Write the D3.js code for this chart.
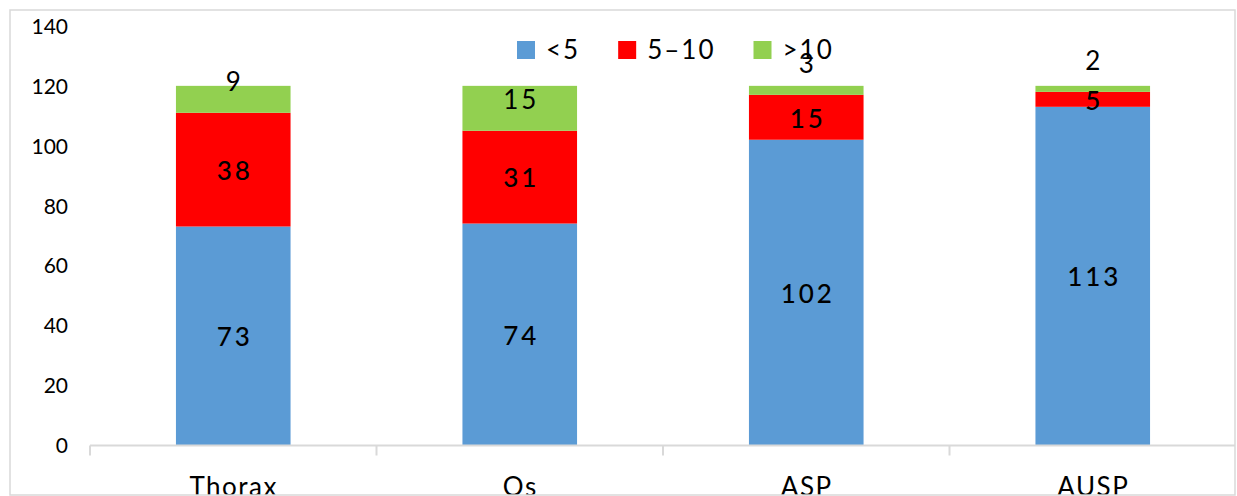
<!DOCTYPE html>
<html>
<head>
<meta charset="utf-8">
<script src="https://cdn.jsdelivr.net/npm/d3@7"></script>
<style>
  html, body { margin: 0; padding: 0; background: #fff; }
  svg { display: block; }
  text { font-family: Lato, "Open Sans", sans-serif; fill: #000; }
</style>
</head>
<body>
<svg id="chart" width="1237" height="496"></svg>
<script>
// Counts per location, split by size class
const categories = ["Thorax", "Os", "ASP", "AUSP"];
const seriesNames = ["<5", "5–10", ">10"];
const under5 = [73, 74, 102, 113];
const from5to10 = [38, 31, 15, 5];
const over10 = [9, 15, 3, 2];
const yTicks = [0, 20, 40, 60, 80, 100, 120, 140];
const colors = ["#5B9BD5", "#FF0000", "#92D050"];

const rows = categories.map((c, i) => ({
  category: c,
  [seriesNames[0]]: under5[i],
  [seriesNames[1]]: from5to10[i],
  [seriesNames[2]]: over10[i]
}));

const svg = d3.select("#chart");

// outer frame
const frame = { x0: 10, y0: 10, x1: 1235, y1: 495 };

const x = d3.scaleBand().domain(categories).range([90, 1236]).padding(0);
const y = d3.scaleLinear().domain([0, 140]).range([445, 26]);
const color = d3.scaleOrdinal().domain(seriesNames).range(colors);
const barFrac = 0.4;

const stacked = d3.stack().keys(seriesNames)(rows);

svg.append("defs").append("clipPath").attr("id", "frameClip")
  .append("rect")
  .attr("x", frame.x0).attr("y", frame.y0)
  .attr("width", frame.x1 - frame.x0).attr("height", frame.y1 - frame.y0);

const root = svg.append("g").attr("clip-path", "url(#frameClip)");

// y axis: labels only
const yAxis = d3.axisLeft(y).tickValues(yTicks).tickSize(0).tickPadding(0);
const yg = root.append("g").attr("transform", "translate(68,0)").call(yAxis);
yg.select(".domain").remove();
yg.selectAll("text")
  .attr("font-family", "Lato, sans-serif")
  .attr("font-size", 21)
  .attr("fill", "#000")
  .attr("dy", "0.36em");

// bars
const layers = root.append("g").selectAll("g")
  .data(stacked).join("g")
  .attr("fill", d => color(d.key));

const bw = x.bandwidth() * barFrac;
layers.selectAll("rect")
  .data(d => d)
  .join("rect")
  .attr("x", d => x(d.data.category) + (x.bandwidth() - bw) / 2)
  .attr("y", d => y(d[1]))
  .attr("width", bw)
  .attr("height", d => y(d[0]) - y(d[1]));

// x axis
const xAxis = d3.axisBottom(x).tickSize(0).tickPadding(0);
const xg = root.append("g").attr("transform", "translate(0,445.5)").call(xAxis);
xg.select(".domain").attr("stroke", "#d9d9d9").attr("stroke-width", 2)
  .attr("d", "M90,0H1236");
xg.selectAll(".tick text").remove();
// boundary ticks between categories
const bounds = categories.map(c => x(c)).concat([x.range()[1]]);
xg.selectAll("line.bound").data(bounds).join("line")
  .attr("class", "bound")
  .attr("x1", d => d).attr("x2", d => d)
  .attr("y1", 0).attr("y2", 10)
  .attr("stroke", "#d9d9d9").attr("stroke-width", 2);
xg.selectAll("text.cat").data(categories).join("text")
  .attr("class", "cat")
  .attr("x", d => x(d) + x.bandwidth() / 2 + 0.5)
  .attr("y", 50.5)
  .attr("text-anchor", "middle")
  .attr("font-size", 26)
  .attr("letter-spacing", 1.5)
  .text(d => d);

// value labels: centred in each segment; the top series sits above its base
const labelG = root.append("g");
stacked.forEach((layer, li) => {
  labelG.selectAll(null).data(layer).join("text")
    .attr("x", d => x(d.data.category) + x.bandwidth() / 2 + 1.5)
    .attr("y", d => li === stacked.length - 1
      ? y(d[0]) - 31
      : (y(d[0]) + y(d[1])) / 2 + 1)
    .attr("dy", "0.36em")
    .attr("text-anchor", "middle")
    .attr("font-size", 26)
    .attr("letter-spacing", 3)
    .attr("font-weight", li === 2 ? 400 : 500)
    .text(d => d[1] - d[0]);
});

// legend
const legend = root.append("g").attr("transform", "translate(517,50)");
let lx = 0;
seriesNames.forEach((name, i) => {
  const g = legend.append("g").attr("transform", `translate(${lx},0)`);
  g.append("rect").attr("x", 0).attr("y", -9).attr("width", 18).attr("height", 18)
    .attr("fill", colors[i]);
  const t = g.append("text").attr("x", 29).attr("dy", "0.36em")
    .attr("font-size", 26).attr("letter-spacing", 2).text(name);
  lx += 29 + t.node().getComputedTextLength() + 38;
});

// frame
svg.append("rect")
  .attr("x", frame.x0).attr("y", frame.y0)
  .attr("width", frame.x1 - frame.x0).attr("height", frame.y1 - frame.y0)
  .attr("fill", "none").attr("stroke", "#d9d9d9").attr("stroke-width", 1.5);
</script>
</body>
</html>
